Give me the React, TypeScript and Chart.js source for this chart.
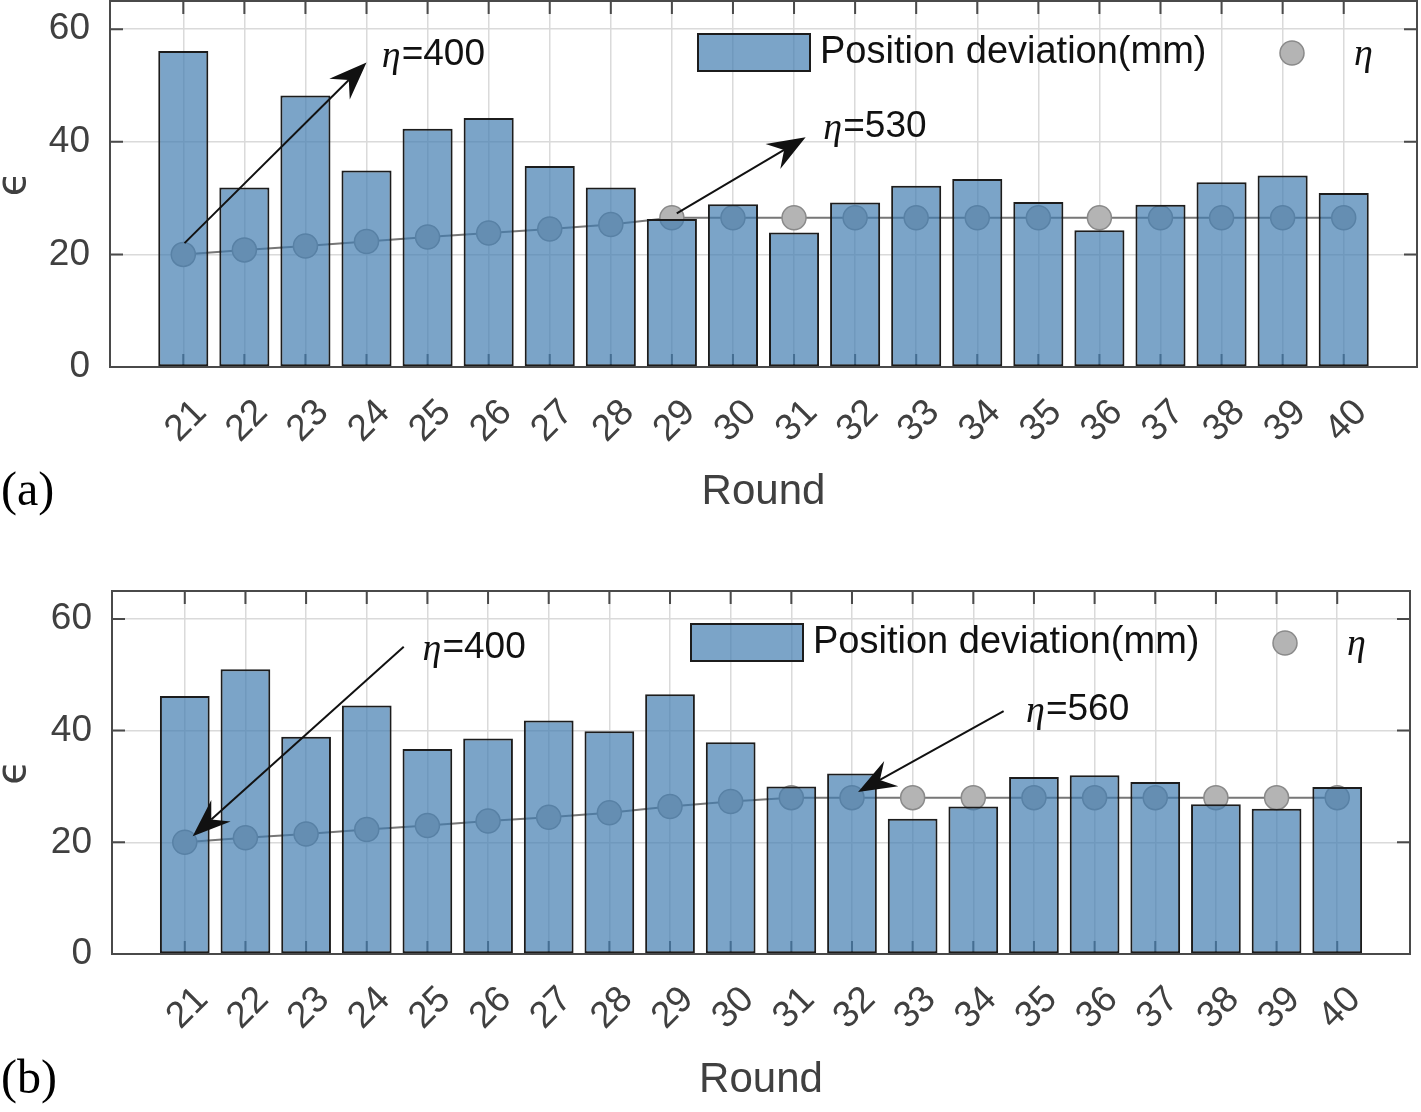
import React, { useEffect, useRef } from "react";
import { Chart, registerables } from "chart.js";

Chart.register(...registerables);

// ---------- data ----------
const rounds = [21, 22, 23, 24, 25, 26, 27, 28, 29, 30, 31, 32, 33, 34, 35, 36, 37, 38, 39, 40];
const yTicks = [0, 20, 40, 60];

const deviationA = [56.1, 31.9, 48.2, 34.9, 42.3, 44.2, 35.7, 31.9, 26.3, 28.9, 23.9, 29.2, 32.2, 33.4, 29.3, 24.3, 28.8, 32.8, 34.0, 30.9];
const etaA = [20, 20.8, 21.5, 22.3, 23.1, 23.8, 24.5, 25.3, 26.5, 26.5, 26.5, 26.5, 26.5, 26.5, 26.5, 26.5, 26.5, 26.5, 26.5, 26.5];

const deviationB = [46.2, 51.0, 38.9, 44.5, 36.7, 38.6, 41.8, 39.9, 46.5, 37.9, 30.0, 32.3, 24.2, 26.4, 31.7, 32.0, 30.8, 26.8, 26.0, 29.9];
const etaB = [20, 20.8, 21.5, 22.3, 23.0, 23.8, 24.5, 25.3, 26.4, 27.3, 28, 28, 28, 28, 28, 28, 28, 28, 28, 28];

const barLabel = "Position deviation(mm)";
const etaLabel = "η";
const xTitle = "Round";
const yTitle = "ϵ";

// annotation arrows (data coordinates)
const notesA = [
  { text: "=400", from: [21.02, 22.0], to: [24.0, 54.1], at: [24.25, 55.4] },
  { text: "=530", from: [29.08, 27.3], to: [31.19, 40.8], at: [31.48, 42.6] },
];
const notesB = [
  { text: "=400", from: [24.61, 55.0], to: [21.13, 21.1], at: [24.92, 54.8] },
  { text: "=560", from: [34.5, 43.5], to: [32.1, 29.0], at: [34.87, 43.7] },
];

// ---------- styles ----------
const BAR_FILL = "rgba(67,126,177,0.70)";
const BAR_EDGE = "#1c1c1c";
const PT_FILL = "#b4b4b4";
const PT_EDGE = "#8a8a8a";
const LINE_COL = "#777777";
const AXIS_COL = "#4a4a4a";
const TEXT_COL = "#404040";
const GRID_COL = "#dadada";
const SANS = '"Liberation Sans", Arial, Helvetica, sans-serif';
const SERIF = '"Liberation Serif", "Times New Roman", serif';

const decorPlugin = {
  id: "decor",
  beforeDatasetsDraw(chart: any, _a: any, opts: any) {
    const { ctx, chartArea: ca, scales } = chart;
    const x = scales.x, y = scales.y;
    const TL = 13;
    ctx.save();
    ctx.strokeStyle = AXIS_COL;
    ctx.lineWidth = 2;
    ctx.beginPath();
    for (const t of x.ticks) {
      const px = x.getPixelForValue(t.value);
      ctx.moveTo(px, ca.bottom);
      ctx.lineTo(px, ca.bottom - TL);
      ctx.moveTo(px, ca.top);
      ctx.lineTo(px, ca.top + TL);
    }
    for (const t of y.ticks) {
      const py = y.getPixelForValue(t.value);
      ctx.moveTo(ca.left, py);
      ctx.lineTo(ca.left + TL, py);
      ctx.moveTo(ca.right, py);
      ctx.lineTo(ca.right - TL, py);
    }
    ctx.stroke();
    ctx.restore();
  },
  afterDatasetsDraw(chart: any, _a: any, opts: any) {
    const { ctx, chartArea: ca, scales } = chart;
    const x = scales.x, y = scales.y;
    ctx.save();
    // box
    ctx.strokeStyle = AXIS_COL;
    ctx.lineWidth = 2;
    ctx.strokeRect(ca.left, ca.top, ca.right - ca.left, ca.bottom - ca.top);

    // legend
    const lx = ca.right - 719;
    const ly = ca.top + 33;
    ctx.fillStyle = BAR_FILL;
    ctx.fillRect(lx, ly, 112, 37);
    ctx.strokeStyle = BAR_EDGE;
    ctx.lineWidth = 2;
    ctx.strokeRect(lx, ly, 112, 37);
    ctx.fillStyle = "#111";
    ctx.font = `38px ${SANS}`;
    ctx.textBaseline = "middle";
    ctx.textAlign = "left";
    ctx.fillText(barLabel, lx + 122, ly + 19);
    ctx.beginPath();
    ctx.arc(lx + 594, ly + 19, 12, 0, Math.PI * 2);
    ctx.fillStyle = PT_FILL;
    ctx.fill();
    ctx.strokeStyle = PT_EDGE;
    ctx.lineWidth = 1.5;
    ctx.stroke();
    ctx.fillStyle = "#111";
    ctx.font = `italic 38px ${SERIF}`;
    ctx.fillText(etaLabel, lx + 656, ly + 21);

    // arrows
    for (const n of opts.notes) {
      const x1 = x.getPixelForValue(n.from[0]);
      const y1 = y.getPixelForValue(n.from[1]);
      const x2 = x.getPixelForValue(n.to[0]);
      const y2 = y.getPixelForValue(n.to[1]);
      const ang = Math.atan2(y2 - y1, x2 - x1);
      const L = 38, W = 14.5, N = 25;
      const cos = Math.cos(ang), sin = Math.sin(ang);
      const P = (u: number, v: number) => [x2 + u * cos - v * sin, y2 + u * sin + v * cos];
      const notch = P(-N, 0);
      ctx.strokeStyle = "#111";
      ctx.lineWidth = 2;
      ctx.beginPath();
      ctx.moveTo(x1, y1);
      ctx.lineTo(notch[0], notch[1]);
      ctx.stroke();
      ctx.fillStyle = "#111";
      ctx.beginPath();
      const a = P(0, 0), b = P(-L, -W), c = P(-L, W);
      ctx.moveTo(a[0], a[1]);
      ctx.lineTo(b[0], b[1]);
      ctx.lineTo(notch[0], notch[1]);
      ctx.lineTo(c[0], c[1]);
      ctx.closePath();
      ctx.fill();

      const tx = x.getPixelForValue(n.at[0]);
      const ty = y.getPixelForValue(n.at[1]);
      ctx.textBaseline = "middle";
      ctx.textAlign = "left";
      ctx.font = `italic 38px ${SERIF}`;
      ctx.fillText(etaLabel, tx, ty + 2);
      const w = ctx.measureText(etaLabel).width;
      ctx.font = `37px ${SANS}`;
      ctx.fillText(n.text, tx + w + 1, ty);
    }

    // panel label
    ctx.fillStyle = "#000";
    ctx.font = `48px ${SERIF}`;
    ctx.textAlign = "left";
    ctx.textBaseline = "middle";
    ctx.fillText(opts.panel, 1, opts.panelY);
    ctx.restore();
  },
};

type PanelProps = {
  top: number;
  height: number;
  deviation: number[];
  eta: number[];
  notes: any[];
  panel: string;
  padTop: number;
  padRight: number;
  yWidth: number;
  xHeight: number;
  titlePad: number;
  panelY: number;
};

function Panel(p: PanelProps) {
  const ref = useRef<HTMLCanvasElement | null>(null);
  useEffect(() => {
    if (!ref.current) return;
    const chart = new Chart(ref.current, {
      type: "bar",
      data: {
        datasets: [
          {
            type: "bar",
            label: barLabel,
            data: rounds.map((r, i) => ({ x: r, y: p.deviation[i] })),
            backgroundColor: BAR_FILL,
            borderColor: BAR_EDGE,
            borderWidth: 2,
            borderSkipped: false,
            barPercentage: 0.82,
            categoryPercentage: 1,
            order: 0,
          } as any,
          {
            type: "line",
            label: etaLabel,
            data: rounds.map((r, i) => ({ x: r, y: p.eta[i] })),
            borderColor: LINE_COL,
            borderWidth: 2,
            pointRadius: 12,
            pointBackgroundColor: PT_FILL,
            pointBorderColor: PT_EDGE,
            pointBorderWidth: 1.5,
            tension: 0,
            fill: false,
            order: 1,
          } as any,
        ],
      },
      options: {
        responsive: false,
        animation: false,
        events: [],
        layout: { autoPadding: false, padding: { top: p.padTop, right: p.padRight, left: 0, bottom: 0 } },
        plugins: {
          legend: { display: false },
          tooltip: { enabled: false },
          decor: { notes: p.notes, panel: p.panel, panelY: p.panelY },
        } as any,
        scales: {
          x: {
            type: "linear",
            min: 19.8,
            max: 41.2,
            offset: false,
            afterBuildTicks: (s: any) => {
              s.ticks = rounds.map((v) => ({ value: v }));
            },
            afterFit: (s: any) => {
              s.height = p.xHeight;
              s.paddingLeft = 0;
              s.paddingRight = 0;
              s.paddingTop = 0;
              s.paddingBottom = 0;
            },
            grid: { color: GRID_COL, lineWidth: 1.5, drawTicks: false, offset: false },
            border: { display: false },
            ticks: {
              autoSkip: false,
              minRotation: 45,
              maxRotation: 45,
              padding: 24,
              labelOffset: 17.5,
              color: TEXT_COL,
              font: { family: SANS, size: 37 },
              callback: (v: any) => String(v),
            },
            title: {
              display: true,
              text: xTitle,
              color: TEXT_COL,
              font: { family: SANS, size: 42 },
              padding: { top: 0, bottom: p.titlePad },
            },
          },
          y: {
            type: "linear",
            min: 0,
            max: 65,
            afterBuildTicks: (s: any) => {
              s.ticks = yTicks.map((v) => ({ value: v }));
            },
            afterFit: (s: any) => {
              s.width = p.yWidth;
              s.paddingLeft = 0;
              s.paddingRight = 0;
              s.paddingTop = 0;
              s.paddingBottom = 0;
            },
            grid: { color: GRID_COL, lineWidth: 1.5, drawTicks: false },
            border: { display: false },
            ticks: {
              padding: 20,
              color: TEXT_COL,
              font: { family: SANS, size: 37 },
              callback: (v: any) => String(v),
            },
            title: {
              display: true,
              text: yTitle,
              color: TEXT_COL,
              font: { family: '"DejaVu Sans", ' + SANS, size: 40, lineHeight: 0.75 },
              padding: { top: 0, bottom: 0 },
            },
          },
        },
      } as any,
      plugins: [decorPlugin as any],
    });
    return () => chart.destroy();
  }, []);
  return (
    <canvas
      ref={ref}
      width={1421}
      height={p.height}
      style={{ position: "absolute", left: 0, top: p.top, width: 1421, height: p.height }}
    />
  );
}

export default function App() {
  return (
    <div style={{ position: "absolute", left: 0, top: 0, width: 1421, height: 1112, background: "#fff" }}>
      <Panel
        top={0}
        height={545}
        deviation={deviationA}
        eta={etaA}
        notes={notesA}
        panel="(a)"
        padTop={1}
        padRight={4}
        yWidth={110}
        xHeight={178}
        titlePad={27.8}
        panelY={492}
      />
      <Panel
        top={560}
        height={552}
        deviation={deviationB}
        eta={etaB}
        notes={notesB}
        panel="(b)"
        padTop={31}
        padRight={11}
        yWidth={112}
        xHeight={158}
        titlePad={6.8}
        panelY={520}
      />
    </div>
  );
}
